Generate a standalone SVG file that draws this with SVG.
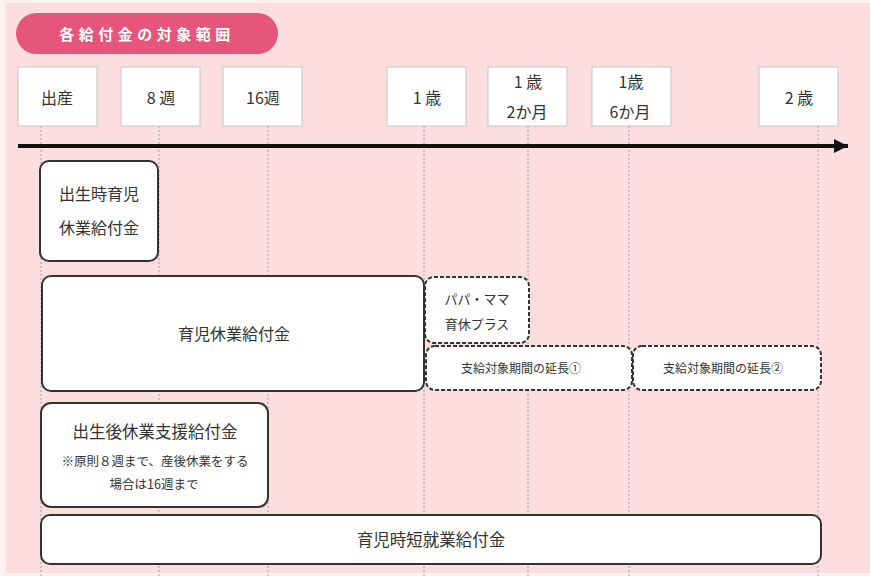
<svg xmlns="http://www.w3.org/2000/svg" width="870" height="576" viewBox="0 0 870 576">
<defs>
<style>
.t{font-family:"Noto Sans CJK JP","Noto Sans",sans-serif;fill:#333;text-anchor:middle;dominant-baseline:central}
.tick{fill:#fff;stroke:#c6c6c6;stroke-width:1}
.box{fill:#fff;stroke:#333;stroke-width:2}
.dbox{fill:#fff;stroke:#333;stroke-width:2;stroke-dasharray:4 2}
.grid{stroke:#a8a0a2;stroke-width:1;stroke-dasharray:2 2}
</style>
<marker id="ah" markerUnits="userSpaceOnUse" markerWidth="16" markerHeight="16" refX="14" refY="8" orient="auto">
<path d="M0,1 L14,8 L0,15 Z" fill="#111"/>
</marker>
</defs>
<rect x="0" y="0" width="870" height="576" fill="#fdf1f2"/>
<rect x="6" y="3" width="864" height="570" fill="#fcdde0"/>
<g id="title">
<rect x="16" y="13" width="262" height="41" rx="20.5" fill="#e6557a"/>
<text class="t" x="147" y="33" style="fill:#fff;font-size:15px;font-weight:bold;letter-spacing:4.5px">各給付金の対象範囲</text>
</g>
<g id="connectors">
<line class="grid" x1="41" y1="126" x2="41" y2="576"/>
<line class="grid" x1="159" y1="126" x2="159" y2="576"/>
<line class="grid" x1="268" y1="126" x2="268" y2="576"/>
<line class="grid" x1="424" y1="126" x2="424" y2="576"/>
<line class="grid" x1="528" y1="126" x2="528" y2="576"/>
<line class="grid" x1="629" y1="126" x2="629" y2="576"/>
<line class="grid" x1="818" y1="126" x2="818" y2="576"/>
<line x1="18" y1="146" x2="848" y2="146" stroke="#111" stroke-width="4" marker-end="url(#ah)"/>
</g>
<g id="tick-birth"><rect class="tick" x="18" y="67" width="79" height="59"/><text class="t" x="57" y="97" font-size="16">出産</text></g>
<g id="tick-8w"><rect class="tick" x="121" y="67" width="79" height="59"/><text class="t" x="161" y="97" font-size="16">8 週</text></g>
<g id="tick-16w"><rect class="tick" x="223" y="67" width="79" height="59"/><text class="t" x="263" y="97" font-size="16">16週</text></g>
<g id="tick-1y"><rect class="tick" x="387" y="67" width="79" height="59"/><text class="t" x="427" y="97" font-size="16">1 歳</text></g>
<g id="tick-1y2m"><rect class="tick" x="488" y="67" width="79" height="59"/><text class="t" x="528" y="81" font-size="16">1 歳</text><text class="t" x="527" y="111" font-size="16">2か月</text></g>
<g id="tick-1y6m"><rect class="tick" x="592" y="67" width="79" height="59"/><text class="t" x="631" y="81" font-size="16">1歳</text><text class="t" x="630" y="111" font-size="16">6か月</text></g>
<g id="tick-2y"><rect class="tick" x="759" y="67" width="79" height="59"/><text class="t" x="799" y="97" font-size="16">2 歳</text></g>
<g id="n-shusshoji"><rect class="box" x="40" y="161" width="118" height="100" rx="9"/><text class="t" x="99" y="193" font-size="16">出生時育児</text><text class="t" x="99" y="227" font-size="16">休業給付金</text></g>
<g id="n-ikuji"><rect class="box" x="42" y="276" width="382" height="115" rx="9"/><text class="t" x="234" y="333" font-size="16">育児休業給付金</text></g>
<g id="n-papamama"><rect class="dbox" x="425" y="277" width="104" height="66" rx="9"/><text class="t" x="477" y="298" font-size="13">パパ・ママ</text><text class="t" x="477" y="323" font-size="13">育休プラス</text></g>
<g id="n-ext1"><rect class="dbox" x="426" y="346" width="206" height="44" rx="9"/><text class="t" x="521" y="367" font-size="12">支給対象期間の延長①</text></g>
<g id="n-ext2"><rect class="dbox" x="633" y="346" width="188" height="44" rx="9"/><text class="t" x="723" y="367" font-size="12">支給対象期間の延長②</text></g>
<g id="n-shien"><rect class="box" x="41" y="403" width="227" height="104" rx="10"/><text class="t" x="155" y="431" font-size="16.5">出生後休業支援給付金</text><text class="t" x="155" y="460" font-size="12.5">※原則８週まで、産後休業をする</text><text class="t" x="154" y="483" font-size="12.5">場合は16週まで</text></g>
<g id="n-jitan"><rect class="box" x="41" y="515" width="780" height="49" rx="9"/><text class="t" x="431" y="539" font-size="16.5">育児時短就業給付金</text></g>
</svg>
